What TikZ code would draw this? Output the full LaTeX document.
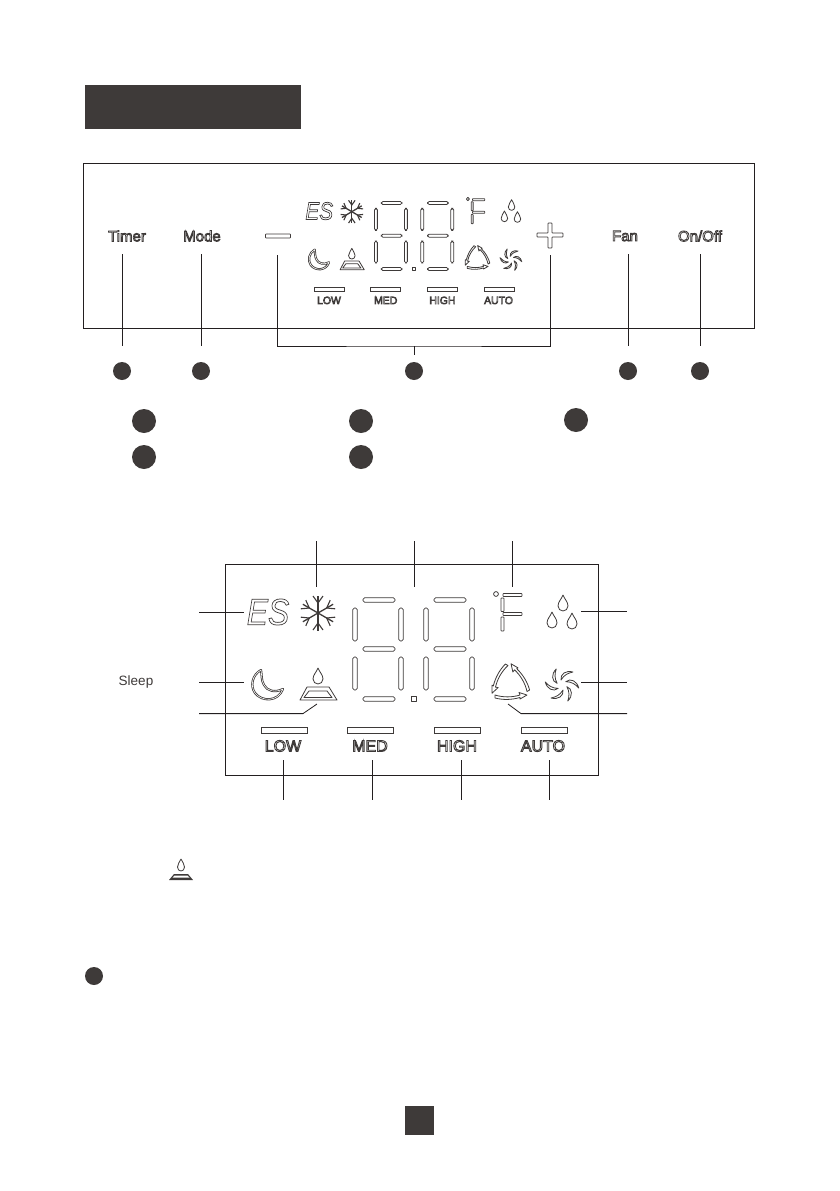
\documentclass[tikz,border=0pt]{standalone}
\usepackage{fontspec}
\setmainfont{Liberation Sans}
\usetikzlibrary{arrows.meta}
\usetikzlibrary{calc,positioning}
\definecolor{inkdark}{HTML}{3E3A39}
\definecolor{inkline}{HTML}{231F20}
\newcommand{\outl}[2]{\special{pdf:code 1 Tr #1 w}#2\special{pdf:code 0 Tr}}
\tikzset{
  leader/.style={draw=inkline, line width=0.8pt},
  seg/.style={draw=inkdark, line width=0.8pt, fill=white, rounded corners=1.6pt},
  lcdline/.style={draw=inkdark, line width=0.8pt, line join=round},
  dotbig/.style={circle, fill=inkdark, inner sep=0pt, minimum size=24pt},
  dotsmall/.style={circle, fill=inkdark, inner sep=0pt, minimum size=18pt},
  darkbox/.style={rectangle, fill=inkdark, inner sep=0pt, outer sep=0pt},
  keylabel/.style={text=inkdark, font=\fontsize{15}{15}\selectfont, inner sep=0pt},
  barlabel/.style={text=inkdark, font=\fontsize{16}{16}\selectfont, inner sep=0pt, transform shape},
  barbox/.style={draw=inkdark, line width=0.8pt, fill=white},
}
\newcommand{\hseg}[3]{\draw[seg] (#1,#3-2.2) rectangle (#2,#3+2.2);}
\newcommand{\vseg}[3]{\draw[seg] (#1-2.2,#2) rectangle (#1+2.2,#3);}
% one seven segment digit, #1 is the shift from the first one
\newcommand{\lcddigit}[1]{
  \begin{scope}[xshift=#1pt]
    \hseg{363}{395}{600}
    \hseg{363}{395}{649}
    \hseg{363}{395}{699}
    \vseg{355}{608}{641}
    \vseg{401}{608}{641}
    \vseg{355}{657}{690}
    \vseg{401}{657}{690}
  \end{scope}
}
% drop with its tip at #1,#2
\newcommand{\lcddrop}[2]{
  \draw[lcdline, fill=white, shift={(#1,#2)}] (0,0) .. controls (1.5,4) and (5,7) .. (5,11)
    .. controls (5,14) and (2.5,16) .. (0,16) .. controls (-2.5,16) and (-5,14) .. (-5,11)
    .. controls (-5,7) and (-1.5,4) .. (0,0) -- cycle;
}
% the whole display, #1 is the prefix of its node names, #2 the stroke of ES
\newcommand{\lcdface}[2]{
  \lcddigit{0}
  \lcddigit{71}
  \draw[lcdline] (411,696.5) rectangle (416,701.5);
  % ES
  \node[text=inkdark, font=\fontsize{37}{37}\itshape, inner sep=0pt, xscale=.86, transform shape] (#1es) at (268,612) {\outl{#2}{ES}};
  % snow
  \foreach \ang in {0,60,...,300}{
    \begin{scope}[shift={(318,613)}, rotate=\ang]
      \draw[draw=inkdark, line width=1.3pt] (0,0) -- (0,-17.5);
      \draw[draw=inkdark, line width=1.1pt] (-5,-17) -- (0,-10) -- (5,-17);
    \end{scope}
  }
  % moon
  \draw[lcdline, double=white, double distance=0.6pt] (261,670) .. controls (252,675) and (250,686) .. (255,693)
    .. controls (262,702) and (278,702) .. (283,689) .. controls (275,693) and (267,691) .. (264,685)
    .. controls (261,680) and (262,675) .. (261,670) -- cycle;
  % burner
  \lcddrop{318}{668}
  \draw[lcdline] (307,687) -- (329,687) -- (337,700) -- (300,700) -- cycle;
  \draw[lcdline] (309,691) -- (327,691) -- (332,697.5) -- (304,697.5) -- cycle;
  % F
  \draw[lcdline] (496,594) circle (2.4);
  \draw[seg, rounded corners=0.6pt] (503,593.5) rectangle (522,596.5);
  \draw[seg, rounded corners=0.6pt] (503,612.5) rectangle (522,615.5);
  \draw[seg, rounded corners=0.6pt] (501,598) rectangle (504,611.5);
  \draw[seg, rounded corners=0.6pt] (501,617) rectangle (504,631);
  % drops
  \lcddrop{563}{595}
  \lcddrop{552}{612}
  \lcddrop{572}{613}
  % three arrows
  \foreach \ang in {0,120,240}{
    \draw[lcdline, rotate around={\ang:(510,684)}] (495,695) .. controls (503,697.5) and (512,697.5) .. (520,695)
      -- (519,692.5) -- (527,695) -- (520,699) -- (520,697.5) .. controls (511,700) and (503,700) .. (495,698) -- cycle;
  }
  % fan
  \foreach \ang in {0,60,...,300}{
    \begin{scope}[shift={(562,685)}, rotate=\ang]
      \draw[lcdline] (-1,-5) .. controls (-2,-11) and (4,-15) .. (11,-13) .. controls (6,-12) and (2,-10) .. (-1,-5) -- cycle;
    \end{scope}
  }
  % speed bars
  \foreach \nm/\bx/\tx/\txt in {low/261/283/LOW, med/347/370/MED, high/434/457/HIGH, auto/521/543/AUTO}{
    \draw[barbox] (\bx,727) rectangle ++(46,6);
    \node[barlabel] (#1\nm) at (\tx,746) {\outl{0.9}{\txt}};
  }
}

\begin{document}
\begin{tikzpicture}[x=1pt, y=-1pt]
  \useasboundingbox (0,0) rectangle (839,1191);

  \node[darkbox, minimum width=216pt, minimum height=44pt] (titlebar) at (193,107) {};

  % control panel
  \node[draw=inkline, line width=0.8pt, inner sep=0pt, minimum width=671pt, minimum height=165pt] (panel) at (418.5,245.5) {};
  \node[keylabel] (timer) at (127,236) {\outl{0.8}{Timer}};
  \node[keylabel] (mode) at (202,236) {\outl{0.8}{Mode}};
  \node[keylabel] (fan) at (625,236) {\outl{0.8}{Fan}};
  \node[keylabel] (onoff) at (700,236) {\outl{0.8}{On/Off}};
  \draw[seg, rounded corners=0.6pt] (265.5,234) rectangle (290.5,238);
  \draw[seg, rounded corners=0.6pt] (548,223) -- (552,223) -- (552,233) -- (563,233) -- (563,237) -- (552,237) -- (552,248) -- (548,248)
    -- (548,237) -- (537,237) -- (537,233) -- (548,233) -- cycle;

  \begin{scope}[shift={(144.5,-197.2)}, xscale=.652, yscale=.667]
    \lcdface{top}{1.1}
  \end{scope}

  \node[dotsmall] (timerdot) at (122,371) {};
  \node[dotsmall] (modedot) at (201,371) {};
  \node[dotsmall] (setdot) at (414,371) {};
  \node[dotsmall] (fandot) at (628,371) {};
  \node[dotsmall] (onoffdot) at (700,371) {};
  \coordinate (timerend) at (122,254);
  \coordinate (timerbot) at (122,346);
  \coordinate (modeend) at (201,254);
  \coordinate (modebot) at (201,346);
  \coordinate (fanend) at (628,254);
  \coordinate (fanbot) at (628,346);
  \coordinate (onoffend) at (700,254);
  \coordinate (onoffbot) at (700,346);
  \coordinate (minusend) at (277,255);
  \coordinate (plusend) at (550,255);
  \coordinate (bracketmid) at (414,346);
  \coordinate (bracketbot) at (414,355);
  \draw[leader] (timerend) -- (timerbot);
  \draw[leader] (modeend) -- (modebot);
  \draw[leader] (fanend) -- (fanbot);
  \draw[leader] (onoffend) -- (onoffbot);
  \draw[leader] (minusend) |- (bracketmid) -| (plusend);
  \draw[leader] (bracketmid) -- (bracketbot);

  % legend dots
  \node[dotbig] (legenda) at (144,421) {};
  \node[dotbig] (legendb) at (144,457) {};
  \node[dotbig] (legendc) at (361,421) {};
  \node[dotbig] (legendd) at (361,457) {};
  \node[dotbig] (legende) at (576,420) {};

  % display
  \node[draw=inkline, line width=0.8pt, inner sep=0pt, minimum width=373pt, minimum height=211pt] (display) at (411.5,669.5) {};
  \lcdface{big}{0.75}
  \node[text=inkdark, font=\fontsize{13.5}{13.5}\selectfont, inner sep=0pt] (sleep) at (136,682) {Sleep};

  \foreach \nm/\lx in {snow/316, digit/414, degree/512}{
    \coordinate (\nm a) at (\lx,541);
    \coordinate (\nm b) at (\lx,587);
    \draw[leader] (\nm a) -- (\nm b);
  }
  \foreach \nm/\lx in {low/283, med/372, high/461, auto/549}{
    \coordinate (\nm a) at (\lx,760);
    \coordinate (\nm b) at (\lx,800);
    \draw[leader] (\nm a) -- (\nm b);
  }
  \foreach \nm/\ax/\bx/\ly in {es/199/244/612, moon/199/244/682, drops/581/627/611, fanicon/581/627/682}{
    \coordinate (\nm a) at (\ax,\ly);
    \coordinate (\nm b) at (\bx,\ly);
    \draw[leader] (\nm a) -- (\nm b);
  }
  \coordinate (burnera) at (199,713.6);
  \coordinate (burnerb) at (303,713.6);
  \coordinate (burnerc) at (317,704);
  \draw[leader] (burnera) -- (burnerb) -- (burnerc);
  \coordinate (swinga) at (627,713.6);
  \coordinate (swingb) at (521,713.6);
  \coordinate (swingc) at (508,704);
  \draw[leader] (swinga) -- (swingb) -- (swingc);

  % small burner
  \draw[lcdline, fill=white, shift={(181,859)}] (0,0) .. controls (1,2.5) and (3.5,5) .. (3.5,8)
    .. controls (3.5,10.5) and (2,12) .. (0,12) .. controls (-2,12) and (-3.5,10.5) .. (-3.5,8)
    .. controls (-3.5,5) and (-1,2.5) .. (0,0) -- cycle;
  \fill[inkdark] (174,874) -- (188,874) -- (193,880) -- (169,880) -- cycle;
  \fill[white] (174.5,875.5) -- (187.5,875.5) -- (189.5,877.5) -- (172.5,877.5) -- cycle;

  \node[dotsmall] (notedot) at (94,976) {};
  \node[darkbox, minimum width=29pt, minimum height=29pt] (pagebox) at (419.5,1120.5) {};
\end{tikzpicture}
\end{document}
